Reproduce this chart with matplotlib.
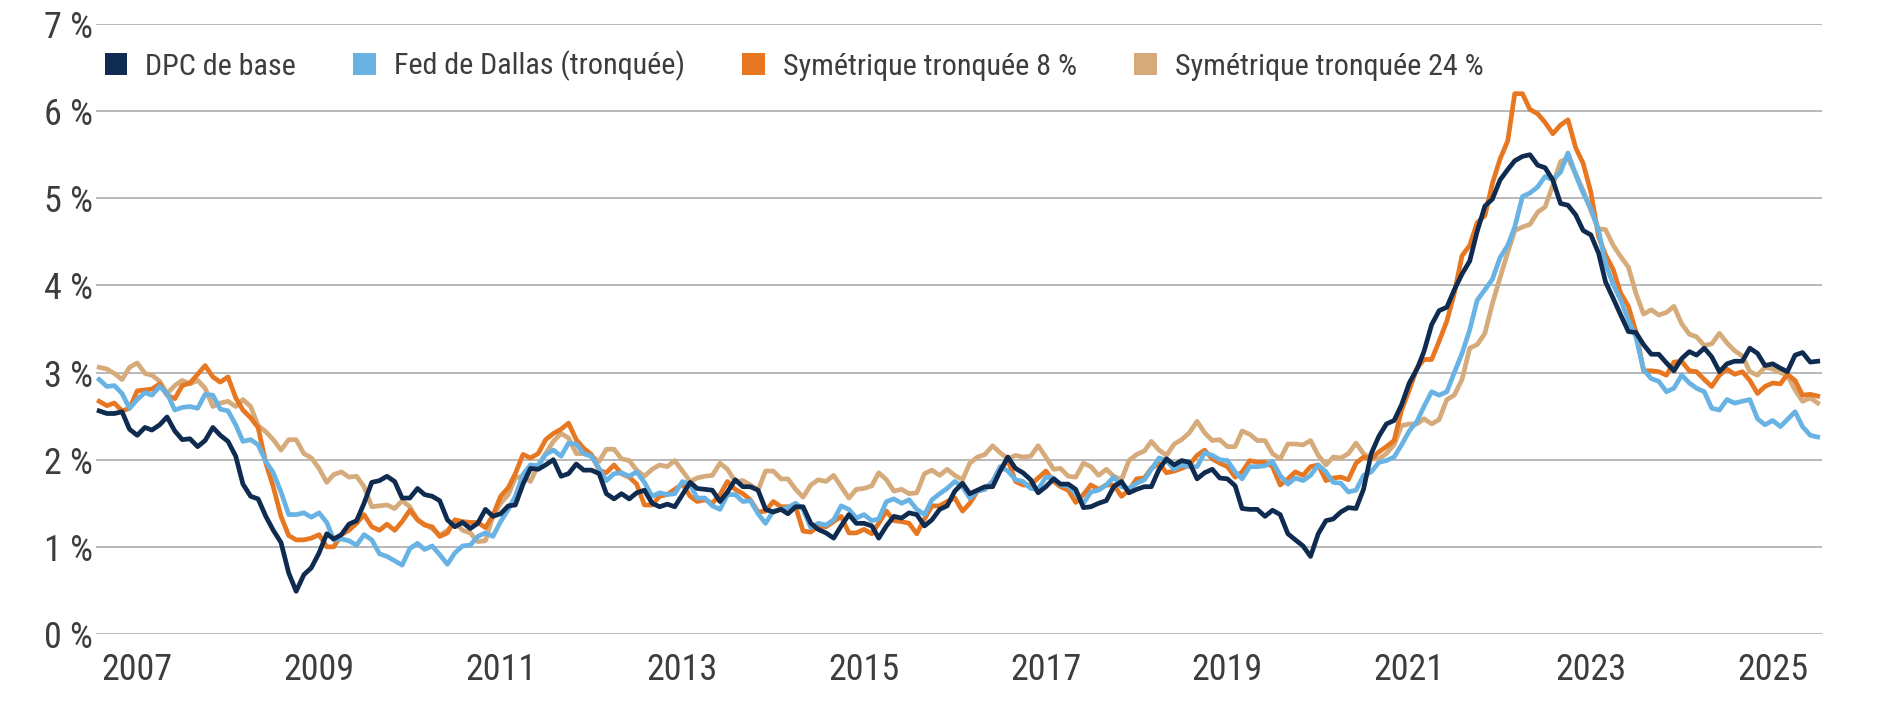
import matplotlib
matplotlib.use('Agg')
import matplotlib.pyplot as plt
from matplotlib.patches import Patch
from matplotlib import font_manager
import pandas as pd

# monthly observations, Aug 2006 to Jul 2025 (y/y, %)
months = pd.date_range('2006-08-01', '2025-07-01', freq='MS')

core = [
    # 2006-08 .. 2009-08
    2.56, 2.53, 2.53, 2.55, 2.35, 2.28, 2.37, 2.34, 2.40, 2.49, 2.33, 2.23, 2.24, 2.15, 2.22, 2.37, 2.28, 2.21, 2.04,
    1.72, 1.58, 1.55, 1.35, 1.19, 1.05, 0.70, 0.49, 0.68, 0.76, 0.93, 1.15, 1.09, 1.14, 1.26, 1.30, 1.50, 1.74,
    1.76,
    1.81, 1.75, 1.56, 1.56, 1.67, 1.60, 1.58, 1.53, 1.31, 1.23, 1.28, 1.21, 1.27, 1.43, 1.35, 1.38, 1.47, 1.48,
    1.72, 1.90, 1.89, 1.94, 2.00, 1.81, 1.84, 1.95, 1.88, 1.88, 1.84, 1.61, 1.55, 1.61, 1.55, 1.62, 1.65, 1.50,
    1.46,
    1.49, 1.46, 1.60, 1.74, 1.67, 1.66, 1.65, 1.52, 1.63, 1.77, 1.69, 1.69, 1.65, 1.43, 1.40, 1.43, 1.38, 1.46, 1.46,
    1.27, 1.20, 1.16, 1.10, 1.24, 1.37, 1.27, 1.27, 1.24, 1.10, 1.24, 1.35, 1.33, 1.39, 1.37, 1.24, 1.31, 1.43,
    1.47,
    1.64, 1.73, 1.61, 1.65, 1.69, 1.69, 1.87, 2.03, 1.90, 1.85, 1.77, 1.62, 1.69, 1.78, 1.72, 1.72, 1.66, 1.45, 1.46,
    1.50, 1.53, 1.69, 1.75, 1.62, 1.66, 1.69, 1.69, 1.89, 2.01, 1.94, 1.99, 1.97, 1.78, 1.85, 1.89, 1.79, 1.78,
    1.70,
    1.44, 1.43, 1.43, 1.35, 1.42, 1.37, 1.15, 1.08, 1.01, 0.89, 1.15, 1.30, 1.32, 1.40, 1.45, 1.44, 1.66,
    2.07, 2.27, 2.41, 2.45, 2.63, 2.88, 3.04, 3.24, 3.55, 3.71, 3.75, 3.95, 4.13, 4.28, 4.62, 4.91, 4.99, 5.21, 5.33,
    5.43, 5.48, 5.50, 5.38, 5.35, 5.21, 4.94, 4.92, 4.81, 4.63, 4.58, 4.37, 4.04, 3.85, 3.66, 3.47, 3.46, 3.32,
    3.21, 3.21, 3.11, 3.02, 3.16, 3.24, 3.20, 3.28, 3.18, 3.01, 3.10, 3.13, 3.13, 3.28, 3.22, 3.08, 3.10, 3.05,
    3.01, 3.20, 3.23, 3.12, 3.13,
]

dallas = [
    2.92, 2.84, 2.85, 2.76, 2.59, 2.69, 2.77, 2.74, 2.84, 2.76, 2.57, 2.60, 2.61, 2.59, 2.75, 2.74, 2.58, 2.56, 2.40,
    2.21, 2.23, 2.17, 1.98, 1.85, 1.63, 1.37, 1.37, 1.39, 1.34, 1.39, 1.28, 1.08, 1.09, 1.07, 1.02, 1.14, 1.08,
    0.92,
    0.89, 0.84, 0.79, 0.98, 1.04, 0.97, 1.01, 0.91, 0.80, 0.93, 1.01, 1.02, 1.12, 1.16, 1.12, 1.29, 1.43, 1.58,
    1.83, 1.94, 1.93, 2.06, 2.11, 2.04, 2.19, 2.18, 2.07, 2.04, 1.90, 1.76, 1.84, 1.85, 1.81, 1.86, 1.74, 1.58,
    1.62,
    1.60, 1.61, 1.75, 1.71, 1.56, 1.56, 1.47, 1.43, 1.60, 1.60, 1.52, 1.53, 1.38, 1.27, 1.41, 1.43, 1.45, 1.50, 1.43,
    1.22, 1.27, 1.25, 1.31, 1.47, 1.43, 1.33, 1.37, 1.30, 1.32, 1.52, 1.55, 1.50, 1.54, 1.43, 1.37, 1.54, 1.61,
    1.67,
    1.75, 1.69, 1.56, 1.64, 1.66, 1.75, 1.92, 1.87, 1.77, 1.75, 1.67, 1.66, 1.80, 1.79, 1.71, 1.70, 1.61, 1.50, 1.63,
    1.65, 1.71, 1.80, 1.69, 1.67, 1.73, 1.77, 1.89, 2.02, 1.99, 1.89, 1.94, 1.92, 1.92, 2.08, 2.05, 2.00, 1.99,
    1.86,
    1.78, 1.92, 1.92, 1.93, 1.98, 1.82, 1.72, 1.79, 1.76, 1.82, 1.94, 1.86, 1.74, 1.73, 1.63, 1.65, 1.82,
    1.86, 1.97, 1.99, 2.03, 2.17, 2.33, 2.44, 2.61, 2.78, 2.74, 2.78, 3.00, 3.22, 3.49, 3.83, 3.95, 4.07, 4.32, 4.46,
    4.67, 5.02, 5.06, 5.13, 5.25, 5.21, 5.30, 5.52, 5.27, 5.06, 4.88, 4.63, 4.25, 4.01, 3.83, 3.60, 3.41, 3.03,
    2.93, 2.90, 2.78, 2.82, 2.97, 2.88, 2.82, 2.78, 2.59, 2.57, 2.69, 2.65, 2.67, 2.69, 2.47, 2.40, 2.45, 2.38,
    2.46, 2.55, 2.38, 2.28, 2.26,
]

trim8 = [
    2.67, 2.62, 2.65, 2.56, 2.59, 2.79, 2.80, 2.81, 2.87, 2.74, 2.70, 2.85, 2.88, 2.98, 3.08, 2.95, 2.89, 2.95, 2.71,
    2.57, 2.48, 2.37, 1.96, 1.69, 1.35, 1.13, 1.08, 1.08, 1.10, 1.14, 1.00, 1.00, 1.14, 1.19, 1.27, 1.37, 1.23,
    1.19,
    1.26, 1.19, 1.29, 1.42, 1.31, 1.25, 1.23, 1.12, 1.16, 1.31, 1.29, 1.28, 1.28, 1.22, 1.36, 1.58, 1.68, 1.84,
    2.06, 2.02, 2.07, 2.23, 2.30, 2.35, 2.42, 2.23, 2.13, 2.06, 1.88, 1.85, 1.94, 1.84, 1.80, 1.72, 1.48, 1.48,
    1.58,
    1.60, 1.66, 1.72, 1.58, 1.52, 1.54, 1.50, 1.60, 1.75, 1.66, 1.61, 1.54, 1.40, 1.41, 1.52, 1.46, 1.46, 1.46, 1.18,
    1.17, 1.24, 1.23, 1.29, 1.35, 1.16, 1.16, 1.20, 1.15, 1.27, 1.41, 1.30, 1.29, 1.27, 1.15, 1.32, 1.47, 1.47,
    1.52,
    1.56, 1.41, 1.50, 1.64, 1.66, 1.75, 1.87, 2.00, 1.75, 1.71, 1.71, 1.79, 1.87, 1.75, 1.69, 1.65, 1.51, 1.60, 1.71,
    1.66, 1.71, 1.71, 1.58, 1.65, 1.78, 1.79, 1.90, 1.96, 1.85, 1.87, 1.90, 1.94, 2.05, 2.11, 2.01, 1.96, 1.92,
    1.80,
    1.86, 1.99, 1.97, 1.97, 1.92, 1.71, 1.78, 1.86, 1.82, 1.92, 1.94, 1.76, 1.79, 1.80, 1.77, 1.96, 2.03,
    2.01, 2.09, 2.15, 2.22, 2.57, 2.80, 3.05, 3.15, 3.15, 3.36, 3.59, 3.91, 4.34, 4.46, 4.72, 4.80, 5.17, 5.45, 5.66,
    6.20, 6.20, 6.02, 5.97, 5.87, 5.74, 5.84, 5.90, 5.58, 5.40, 5.07, 4.56, 4.35, 4.18, 3.91, 3.76, 3.47, 3.02,
    3.02, 3.01, 2.97, 3.12, 3.13, 3.02, 3.01, 2.92, 2.84, 2.97, 3.04, 2.98, 3.01, 2.91, 2.76, 2.84, 2.88, 2.87,
    2.98, 2.91, 2.74, 2.75, 2.73,
]

trim24 = [
    3.06, 3.04, 2.99, 2.92, 3.06, 3.11, 2.99, 2.97, 2.90, 2.76, 2.85, 2.91, 2.87, 2.91, 2.82, 2.61, 2.65, 2.67, 2.61,
    2.69, 2.61, 2.39, 2.32, 2.23, 2.11, 2.23, 2.23, 2.07, 2.02, 1.90, 1.74, 1.83, 1.86, 1.80, 1.81, 1.69, 1.46,
    1.47,
    1.48, 1.44, 1.53, 1.46, 1.31, 1.26, 1.21, 1.13, 1.19, 1.28, 1.19, 1.16, 1.06, 1.07, 1.35, 1.50, 1.60, 1.79,
    1.81, 1.75, 1.94, 2.07, 2.21, 2.30, 2.25, 2.07, 2.07, 2.04, 1.98, 2.12, 2.12, 2.01, 1.99, 1.88, 1.81, 1.89,
    1.94,
    1.92, 1.99, 1.87, 1.75, 1.79, 1.81, 1.82, 1.96, 1.89, 1.75, 1.76, 1.71, 1.65, 1.87, 1.87, 1.78, 1.78, 1.66, 1.57,
    1.71, 1.77, 1.75, 1.82, 1.69, 1.56, 1.66, 1.67, 1.70, 1.85, 1.77, 1.64, 1.66, 1.61, 1.62, 1.84, 1.88, 1.82,
    1.89,
    1.82, 1.77, 1.96, 2.03, 2.06, 2.16, 2.08, 2.01, 2.05, 2.03, 2.04, 2.16, 2.03, 1.89, 1.90, 1.81, 1.80, 1.96, 1.92,
    1.82, 1.89, 1.81, 1.77, 1.99, 2.06, 2.10, 2.21, 2.11, 2.05, 2.18, 2.23, 2.31, 2.44, 2.31, 2.22, 2.23, 2.15,
    2.15,
    2.33, 2.29, 2.22, 2.22, 2.07, 2.01, 2.18, 2.18, 2.17, 2.22, 2.05, 1.94, 2.03, 2.02, 2.07, 2.19, 2.07,
    2.01, 2.01, 2.07, 2.17, 2.39, 2.41, 2.41, 2.47, 2.41, 2.46, 2.69, 2.74, 2.92, 3.28, 3.32, 3.45, 3.79, 4.09, 4.38,
    4.63, 4.67, 4.70, 4.84, 4.90, 5.15, 5.42, 5.46, 5.28, 5.09, 4.86, 4.65, 4.64, 4.46, 4.33, 4.21, 3.91, 3.67,
    3.72, 3.66, 3.69, 3.76, 3.56, 3.44, 3.41, 3.31, 3.33, 3.45, 3.34, 3.25, 3.19, 3.01, 2.97, 3.06, 3.04, 3.00,
    2.97, 2.80, 2.67, 2.71, 2.65,
]

labels = ['DPC de base', 'Fed de Dallas (tronquée)', 'Symétrique tronquée 8 %', 'Symétrique tronquée 24 %']
colors = ['#0f2b50', '#68b3e3', '#e87722', '#d6ab7b']
year_ticks = list(range(2007, 2026, 2))
pct_ticks = list(range(0, 8))

for s in (core, dallas, trim8, trim24):
    assert len(s) == len(months), len(s)

# the original uses a narrow grotesque; take a condensed face if one is installed
names = {f.name for f in font_manager.fontManager.ttflist}
narrow = [n for n in ('Roboto Condensed', 'Noto Sans Condensed', 'Open Sans Condensed',
                      'Liberation Sans Narrow', 'Noto Sans SemiCondensed') if n in names]
if narrow:
    family, tick_size, leg_size = narrow[0], 26, 21.7
else:
    family, tick_size, leg_size = 'Roboto', 24, 19.3
plt.rcParams['font.family'] = [family, 'DejaVu Sans']
txt = '#3d3d3d'

fig = plt.figure(figsize=(18.81, 7.01), dpi=100)
ax = fig.add_axes([0.0510, 0.0956, 0.9176, 0.8702])

# draw the tan one first so the core series ends up on top
series = [core, dallas, trim8, trim24]
for vals, lab, c in list(zip(series, labels, colors))[::-1]:
    ax.plot(months, vals, color=c, lw=3.4, label=lab)

ax.set_ylim(0, 7)
ax.set_yticks(pct_ticks)
ax.set_yticklabels([f'{v} %' for v in pct_ticks])
ax.set_xlim(months[0] - pd.Timedelta(days=13), months[-1] + pd.Timedelta(days=17))
ax.set_xticks([pd.Timestamp(f'{y}-01-01') for y in year_ticks])
ax.set_xticklabels([str(y) for y in year_ticks])

ax.yaxis.grid(True, color='#ababab', lw=1.2)
ax.set_axisbelow(True)
for sp in ax.spines.values():
    sp.set_visible(False)
ax.tick_params(axis='both', length=0, labelsize=tick_size, colors=txt)
ax.tick_params(axis='y', pad=2)
ax.tick_params(axis='x', pad=13)

handles = [Patch(facecolor=c, edgecolor='none', label=l) for c, l in zip(colors, labels)]
ax.legend(handles=handles, loc='center left', bbox_to_anchor=(0.005, 0.931), ncol=4,
          frameon=False, fontsize=leg_size, labelcolor=txt, handlelength=0.75, handleheight=0.75,
          handletextpad=0.6, columnspacing=1.9, borderaxespad=0, borderpad=0)

fig.savefig('out.png', dpi=100)
